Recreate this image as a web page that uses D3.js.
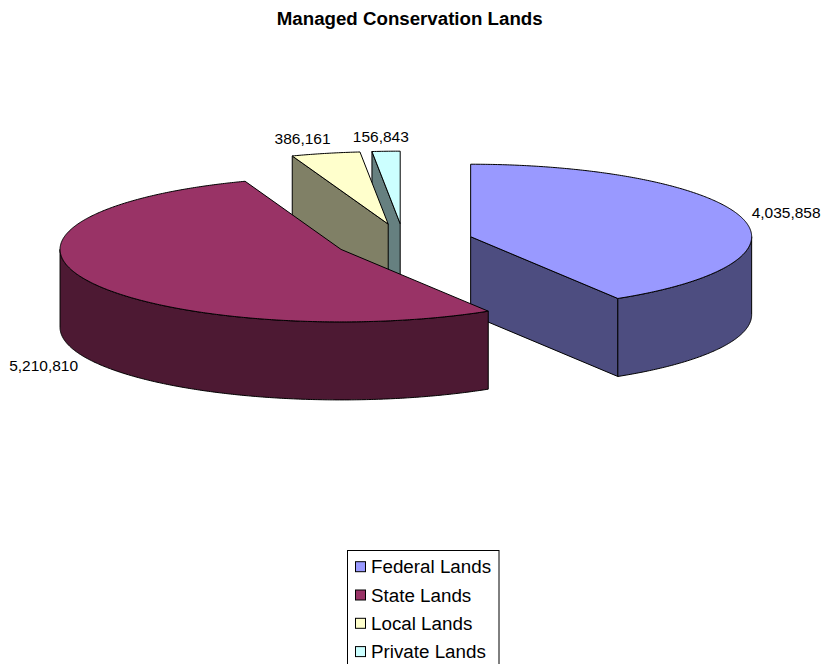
<!DOCTYPE html>
<html>
<head>
<meta charset="utf-8">
<script src="https://cdnjs.cloudflare.com/ajax/libs/d3/7.8.5/d3.min.js"></script>
<style>
  html, body { margin: 0; padding: 0; background: #fff; }
  svg { display: block; font-family: "Liberation Sans", Arial, sans-serif; }
</style>
</head>
<body>
<svg id="chart" width="823" height="664"></svg>
<script>
// ---- Data ----
const title = "Managed Conservation Lands";
const categories = ["Federal Lands", "State Lands", "Local Lands", "Private Lands"];
const values = [4035858, 5210810, 386161, 156843];
const topColors = ["#9999FF", "#993366", "#FFFFCC", "#CCFFFF"];
const sideColors = ["#4D4D80", "#4D1933", "#808066", "#668080"];

// ---- Layout ----
const W = 823, H = 664;
const cx0 = 403.7, cy0 = 241.6;   // pie centre (top face)
const rx = 281, ry = 72.5, depth = 78;
const explode = 0.2476;

const svg = d3.select("#chart");
const fmt = d3.format(",");

svg.append("text")
  .attr("x", 409.7).attr("y", 24.5)
  .attr("text-anchor", "middle")
  .attr("font-weight", "bold")
  .attr("font-size", 18.7)
  .attr("fill", "#000")
  .text(title);

const pie = d3.pie().sort(null).startAngle(0).endAngle(2 * Math.PI);
const arcs = pie(values).map((d, i) => {
  const mid = (d.startAngle + d.endAngle) / 2;
  return Object.assign(d, {
    i, mid,
    cx: cx0 + explode * rx * Math.sin(mid),
    cy: cy0 - explode * ry * Math.cos(mid)
  });
});

const P = (a, th, z) => [a.cx + rx * Math.sin(th), a.cy - ry * Math.cos(th) + (z || 0)];
const line = d3.line();
function arcPts(a, t0, t1, z) {
  const n = Math.max(2, Math.ceil((t1 - t0) / (Math.PI / 360)));
  return d3.range(n + 1).map(k => P(a, t0 + (t1 - t0) * k / n, z));
}

const g = svg.append("g");
const order = arcs.slice().sort((a, b) => a.cy - b.cy);
const eps = 1e-6;

order.forEach(a => {
  const sg = g.append("g");
  const side = sideColors[a.i], top = topColors[a.i];
  const face = th => {
    const pts = [[a.cx, a.cy], P(a, th, 0), P(a, th, depth), [a.cx, a.cy + depth]];
    sg.append("path").attr("d", line(pts) + "Z")
      .attr("fill", side).attr("stroke", "#000").attr("stroke-width", 1).attr("stroke-linejoin", "round");
  };
  // radial faces
  if (Math.sin(a.startAngle) < -eps) face(a.startAngle);
  if (Math.sin(a.endAngle) > eps) face(a.endAngle);
  // outer wall (front half)
  const s = Math.max(a.startAngle, Math.PI / 2), e = Math.min(a.endAngle, 3 * Math.PI / 2);
  if (e > s) {
    const pts = arcPts(a, s, e, 0).concat(arcPts(a, s, e, depth).reverse());
    sg.append("path").attr("d", line(pts) + "Z")
      .attr("fill", side).attr("stroke", "#000").attr("stroke-width", 1).attr("stroke-linejoin", "round");
  }
  // top face
  const tp = [[a.cx, a.cy]].concat(arcPts(a, a.startAngle, a.endAngle, 0));
  sg.append("path").attr("d", line(tp) + "Z")
    .attr("fill", top).attr("stroke", "#000").attr("stroke-width", 1).attr("stroke-linejoin", "round");
});

// ---- Data labels ----
const padX = 11, padY = 15, kA = 3.3;
arcs.forEach(a => {
  const r = P(a, a.mid, 0);
  const s = Math.sin(a.mid), c = Math.cos(a.mid);
  const px = r[0] + s * padX;
  const py = r[1] - c * padY + (c < 0 ? depth : 0);
  const t = svg.append("text")
    .attr("font-size", 15.5).attr("fill", "#000")
    .attr("y", py).attr("dy", "0.35em")
    .text(fmt(a.data));
  const w = t.node().getComputedTextLength();
  const f = 0.5 - 0.5 * Math.max(-1, Math.min(1, s * kA));
  t.attr("x", px - w * f);
});

// ---- Legend ----
const lg = svg.append("g");
const rowY = d3.scalePoint().domain(categories).range([566.7, 651.6]);
lg.append("rect")
  .attr("x", 347.5).attr("y", 550.5).attr("width", 151.5).attr("height", 130)
  .attr("fill", "#fff").attr("stroke", "#000").attr("stroke-width", 1);
categories.forEach((cat, i) => {
  const y = rowY(cat);
  lg.append("rect")
    .attr("x", 355.5).attr("y", y - 5).attr("width", 10).attr("height", 10)
    .attr("fill", topColors[i]).attr("stroke", "#000").attr("stroke-width", 1);
  lg.append("text")
    .attr("x", 371).attr("y", y).attr("dy", "0.35em")
    .attr("font-size", 18.8).attr("fill", "#000")
    .text(cat);
});
</script>
</body>
</html>
